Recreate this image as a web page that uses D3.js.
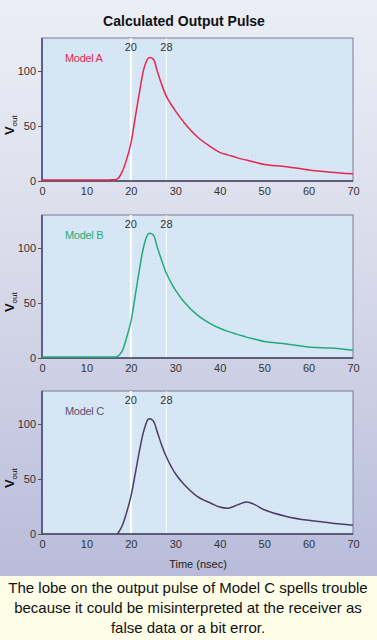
<!DOCTYPE html>
<html>
<head>
<meta charset="utf-8">
<script src="https://cdn.jsdelivr.net/npm/d3@7/dist/d3.min.js"></script>
<style>
  html, body { margin: 0; padding: 0; }
  body { width: 377px; height: 640px; overflow: hidden; }
  svg { display: block; font-family: "Liberation Sans", Arial, sans-serif; }
</style>
</head>
<body>
<svg id="chart" width="377" height="640"></svg>
<script>
// time points (nsec)
var time = [0, 5, 10, 15, 17, 18, 19, 20, 21, 22, 23, 24, 25, 26, 27, 28, 29, 30, 32, 35, 38, 40, 42, 44, 46, 48, 50, 55, 60, 65, 70];
// Vout readings for each model
var modelA = [1, 1, 1, 1, 2, 8, 19, 34, 58, 82, 103, 112, 111, 99, 87, 77, 70, 64, 53, 40, 31, 26, 23.5, 21, 19, 17, 15, 13, 10, 8, 6.5];
var modelB = [1, 1, 1, 1, 1.5, 6, 18, 33, 57, 82, 103, 113, 112, 100, 88, 77, 69, 62, 51, 39, 31, 27, 24, 21.5, 19, 17, 15, 12.7, 10, 9, 7];
var modelC = [null, null, null, null, 0, 7, 19, 34, 55, 77, 95, 104.5, 103, 92, 80, 70, 62, 55, 45, 34, 28, 24.5, 23.5, 26.5, 29, 26.5, 22, 16, 12.4, 10, 8];

var xTicks = [0, 10, 20, 30, 40, 50, 60, 70];
var yTicks = [0, 50, 100];
var markers = [20, 28];

var panels = [
    {name: "Model A", values: modelA, color: "#e5264e", labelColor: "#e5264e", top: 38},
    {name: "Model B", values: modelB, color: "#1fab78", labelColor: "#1fab78", top: 215},
    {name: "Model C", values: modelC, color: "#4a3c62", labelColor: "#5a5070", top: 391}
];

var svg = d3.select("#chart");
var defs = svg.append("defs");

var bg = defs.append("linearGradient").attr("id", "bg")
    .attr("x1", 0).attr("y1", 0).attr("x2", 0).attr("y2", 1);
bg.append("stop").attr("offset", "0").attr("stop-color", "#eceef6");
bg.append("stop").attr("offset", "0.45").attr("stop-color", "#d9dbeb");
bg.append("stop").attr("offset", "1").attr("stop-color", "#b8bcda");

var dots = defs.append("pattern").attr("id", "dots")
    .attr("width", 4).attr("height", 4).attr("patternUnits", "userSpaceOnUse");
dots.append("rect").attr("width", 4).attr("height", 4).attr("fill", "#d6e5f4");
dots.append("rect").attr("x", 1).attr("y", 1).attr("width", 1).attr("height", 1).attr("fill", "#e6eef8");

svg.append("rect").attr("width", 377).attr("height", 576).attr("fill", "url(#bg)");

svg.append("text")
    .attr("x", 184).attr("y", 26)
    .attr("text-anchor", "middle")
    .attr("font-size", "14px").attr("font-weight", "bold")
    .attr("fill", "#111")
    .text("Calculated Output Pulse");

var left = 42, right = 353, height = 143;

var x = d3.scaleLinear().domain([0, 70]).range([left, right]);

panels.forEach(function(p, i) {
    var y = d3.scaleLinear().domain([0, 130]).range([p.top + height, p.top]);
    var g = svg.append("g");

    g.append("rect")
        .attr("x", left).attr("y", p.top)
        .attr("width", right - left).attr("height", height)
        .attr("fill", "url(#dots)")
        .attr("stroke", "#7a7a92").attr("stroke-width", 1);

    // marker lines at 20 and 28 nsec
    g.selectAll(".marker")
        .data(markers)
      .enter().append("line")
        .attr("x1", function(d) { return x(d); })
        .attr("x2", function(d) { return x(d); })
        .attr("y1", p.top).attr("y2", p.top + height)
        .attr("stroke", "#ffffff")
        .attr("stroke-width", function(d, k) { return k === 0 ? 2 : 1; })
        .attr("stroke-opacity", function(d, k) { return k === 0 ? 1 : 0.8; });

    g.selectAll(".markerLabel")
        .data(markers)
      .enter().append("text")
        .attr("x", function(d) { return x(d); })
        .attr("y", p.top + 13)
        .attr("text-anchor", "middle")
        .attr("font-size", "11px").attr("fill", "#333")
        .text(function(d) { return d; });

    g.append("text")
        .attr("x", 65).attr("y", p.top + 24)
        .attr("font-size", "11px").attr("fill", p.labelColor)
        .attr("letter-spacing", "-0.3px")
        .text(p.name);

    // left and bottom axis lines
    g.append("line")
        .attr("x1", left).attr("x2", left)
        .attr("y1", p.top).attr("y2", p.top + height)
        .attr("stroke", "#44447a").attr("stroke-width", 1.5);
    g.append("line")
        .attr("x1", left).attr("x2", right)
        .attr("y1", p.top + height).attr("y2", p.top + height)
        .attr("stroke", "#44445e").attr("stroke-width", 1.5);

    var yAxis = d3.axisLeft(y).tickValues(yTicks).tickSize(4).tickPadding(2);
    var ya = g.append("g").attr("transform", "translate(" + left + ",0)").call(yAxis);
    ya.select(".domain").remove();
    ya.selectAll("line").attr("stroke", "#555");
    ya.selectAll("text").attr("font-size", "11px").attr("fill", "#333")
        .attr("font-family", "Liberation Sans, Arial, sans-serif");

    var xAxis = d3.axisBottom(x).tickValues(xTicks).tickSize(0).tickPadding(6);
    var xa = g.append("g").attr("transform", "translate(0," + (p.top + height) + ")").call(xAxis);
    xa.select(".domain").remove();
    xa.selectAll("text").attr("font-size", "11px").attr("fill", "#333")
        .attr("font-family", "Liberation Sans, Arial, sans-serif");

    // V_out label
    var vl = g.append("text")
        .attr("transform", "translate(14," + (p.top + height * 0.61) + ") rotate(-90)")
        .attr("text-anchor", "middle")
        .attr("font-size", "13px").attr("font-weight", "bold").attr("fill", "#111");
    vl.append("tspan").text("V");
    vl.append("tspan").attr("font-size", "8px").attr("font-weight", "normal").attr("dy", 3).text("out");

    var line = d3.line()
        .defined(function(d) { return d[1] !== null; })
        .x(function(d) { return x(d[0]); })
        .y(function(d) { return y(d[1]); })
        .curve(d3.curveCatmullRom.alpha(0.5));

    g.append("path")
        .datum(time.map(function(t, k) { return [t, p.values[k]]; }))
        .attr("fill", "none")
        .attr("stroke", p.color)
        .attr("stroke-width", 1.5)
        .attr("d", line);
});

svg.append("text")
    .attr("x", 198).attr("y", 568)
    .attr("text-anchor", "middle")
    .attr("font-size", "11px").attr("fill", "#222")
    .text("Time (nsec)");

// caption
svg.append("rect").attr("y", 576).attr("width", 377).attr("height", 64).attr("fill", "#fdfde8");
var caption = [
    "The lobe on the output pulse of Model C spells trouble",
    "because it could be misinterpreted at the receiver as",
    "false data or a bit error."
];
svg.selectAll(".caption")
    .data(caption)
  .enter().append("text")
    .attr("x", 188).attr("y", function(d, i) { return 593 + i * 20; })
    .attr("text-anchor", "middle")
    .attr("font-size", "15px").attr("fill", "#111")
    .text(function(d) { return d; });
</script>
</body>
</html>
